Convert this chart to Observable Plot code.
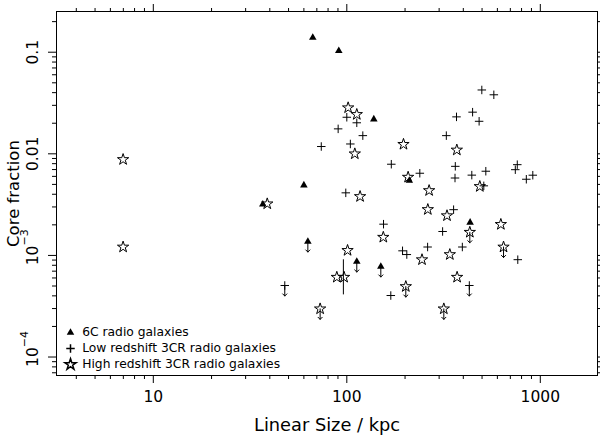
<!DOCTYPE html>
<html>
<head>
<meta charset="utf-8">
<script src="https://cdn.jsdelivr.net/npm/d3@7"></script>
<script src="https://cdn.jsdelivr.net/npm/@observablehq/plot@0.6"></script>
<style>
  body { margin: 0; background: #fff; }
  #chart { width: 600px; height: 436px; }
</style>
</head>
<body>
<div id="chart"></div>
<script>
// ---- Data ----
// 6C radio galaxies
const sixCSize  = [66.7, 90.9, 137.9, 60.0, 36.8, 62.9, 112.6, 149.9, 433.7, 210.4];
const sixCCore  = [0.1395, 0.1032, 0.0219, 0.00491, 0.00319, 0.00137, 0.000871, 0.000778, 0.00211, 0.00546];
const sixCLimit = [0, 0, 0, 0, 0, 1, 1, 1, 0, 0];

// Low redshift 3CR radio galaxies
const lowSize  = [498.6, 575.2, 368.9, 446.8, 482.8, 326.8, 100.0, 112.6, 90.2, 121.0, 73.8, 104.3,
                  169.8, 238.4, 363.7, 362.4, 442.6, 522.9, 760.4, 742.6, 846.6, 914.5, 510.5, 98.8,
                  356.4, 154.8, 312.7, 261.6, 395.4, 194.1, 204.2, 765.0, 168.8, 47.8, 429.7];
const lowCore  = [0.0425, 0.0381, 0.0231, 0.0257, 0.0209, 0.0151, 0.0229, 0.0202, 0.0176, 0.0151, 0.0118, 0.0125,
                  0.0079, 0.00644, 0.00753, 0.00578, 0.00617, 0.00674, 0.00782, 0.00698, 0.00562, 0.00616, 0.00484, 0.00413,
                  0.00282, 0.00203, 0.00172, 0.00121, 0.00121, 0.00111, 0.00102, 0.000908, 0.000403, 0.000506, 0.000506];
const lowLimit = [0,0,0,0,0,0,0,0,0,0,0,0, 0,0,0,0,0,0,0,0,0,0,0,0, 0,0,0,0,0,0,0,0,0,1,1];

// High redshift 3CR radio galaxies
const highSize  = [6.98, 6.98, 38.8, 101.6, 112.6, 110.0, 196.3, 370.3, 207.4, 266.3, 486.8, 117.1,
                   262.2, 329.5, 625.3, 432.2, 645.6, 244.7, 340.7, 371.5, 201.8, 317.2, 72.8, 88.8,
                   96.8, 154.4, 100.9];
const highCore  = [0.00879, 0.00121, 0.00322, 0.0284, 0.0244, 0.0100, 0.0124, 0.0109, 0.00589, 0.00435, 0.00477, 0.00380,
                   0.00283, 0.00246, 0.00202, 0.00169, 0.00121, 0.000908, 0.00102, 0.00061, 0.000494, 0.000298, 0.000298, 0.00061,
                   0.00061, 0.00151, 0.00112];
const highLimit = [0,0,0,0,0,0,0,0,0,0,0,0, 0,0,0,1,1,0,0,0,1,1,1,0, 0,0,0];

// Vertical error bar
const errSize = [96.0];
const errLow  = [0.000409];
const errHigh = [0.000906];

// Axis ticks and labels
const xMajor = [10, 100, 1000];
const xLabels = ["10", "100", "1000"];
const xMinor = [4, 5, 6, 7, 8, 9, 20, 30, 40, 50, 60, 70, 80, 90, 200, 300, 400, 500, 600, 700, 800, 900];
const yMajor = [1e-4, 1e-3, 0.01, 0.1];
const yLabels = ["10", "10", "0.01", "0.1"];
const yExp = ["\u22124", "\u22123", "", ""];
const yMinor = [7e-5, 8e-5, 9e-5, 2e-4, 3e-4, 4e-4, 5e-4, 6e-4, 7e-4, 8e-4, 9e-4,
                2e-3, 3e-3, 4e-3, 5e-3, 6e-3, 7e-3, 8e-3, 9e-3,
                0.02, 0.03, 0.04, 0.05, 0.06, 0.07, 0.08, 0.09, 0.2];

const legendLabels = ["6C radio galaxies", "Low redshift 3CR radio galaxies", "High redshift 3CR radio galaxies"];
const xTitle = "Linear Size / kpc";
const yTitle = "Core fraction";

// ---- Tables ----
const sixC = sixCSize.map((s, i) => ({size: s, core: sixCCore[i], limit: sixCLimit[i]}));
const low  = lowSize.map((s, i) => ({size: s, core: lowCore[i], limit: lowLimit[i]}));
const high = highSize.map((s, i) => ({size: s, core: highCore[i], limit: highLimit[i]}));
const errs = errSize.map((s, i) => ({size: s, lo: errLow[i], hi: errHigh[i]}));
const limits = [...sixC, ...low, ...high].filter(d => d.limit);

const font = "DejaVu Sans";
const axisOpts = {stroke: "black", fill: "none", label: null};

const chart = Plot.plot({
  width: 600,
  height: 436,
  marginLeft: 56,
  marginRight: 3,
  marginTop: 11,
  marginBottom: 61,
  style: {fontFamily: font, background: "white", color: "black", overflow: "visible"},
  x: {type: "log", domain: [3.16, 1975]},
  y: {type: "log", domain: [6.58e-5, 0.2516]},
  marks: [
    // ticks (outward on all four sides)
    Plot.axisX(xMajor, {...axisOpts, anchor: "bottom", tickSize: 8}),
    Plot.axisX(xMinor, {...axisOpts, anchor: "bottom", tickSize: 4}),
    Plot.axisX(xMajor, {...axisOpts, anchor: "top", tickSize: 8}),
    Plot.axisX(xMinor, {...axisOpts, anchor: "top", tickSize: 4}),
    Plot.axisY(yMajor, {...axisOpts, anchor: "left", tickSize: 8}),
    Plot.axisY(yMinor, {...axisOpts, anchor: "left", tickSize: 4}),
    Plot.axisY(yMajor, {...axisOpts, anchor: "right", tickSize: 8}),
    Plot.axisY(yMinor, {...axisOpts, anchor: "right", tickSize: 4}),
    Plot.frame({stroke: "black"}),

    // tick labels
    Plot.text(xMajor, {x: d => d, text: xLabels, frameAnchor: "bottom", dy: 21.5, fontSize: 15.5, lineAnchor: "middle", fill: "black"}),
    Plot.text(yMajor, {y: d => d, text: yLabels, frameAnchor: "left", dx: -23, rotate: -90, fontSize: 15.5, textAnchor: "middle", lineAnchor: "middle", fill: "black"}),
    Plot.text(yMajor, {y: d => d, text: yExp, frameAnchor: "left", dx: -32, dy: -18, rotate: -90, fontSize: 11, textAnchor: "middle", lineAnchor: "middle", fill: "black"}),

    // axis titles
    Plot.text([xTitle], {text: d => d, frameAnchor: "bottom", dy: 50, fontSize: 17.8, lineAnchor: "middle", fill: "black"}),
    Plot.text([yTitle], {text: d => d, frameAnchor: "left", dx: -42.5, rotate: -90, fontSize: 16.5, lineAnchor: "middle", textAnchor: "middle", fill: "black"}),

    // error bar
    Plot.ruleX(errs, {x: "size", y1: "lo", y2: "hi", stroke: "black", strokeWidth: 1}),

    // upper-limit arrows
    Plot.vector(limits, {x: "size", y: "core", length: 10.5, rotate: 180, anchor: "start", stroke: "black", strokeWidth: 1}),

    // points
    Plot.dot(low, {x: "size", y: "core", symbol: "plus", r: 2.85, stroke: "black", strokeWidth: 1}),
    Plot.dot(high, {x: "size", y: "core", symbol: "star", r: 3.55, stroke: "black", fill: "none", strokeWidth: 1}),
    Plot.dot(sixC, {x: "size", y: "core", symbol: "triangle", r: 2.8, fill: "black", stroke: "none"}),

    // legend
    Plot.dot([legendLabels[0]], {frameAnchor: "bottom-left", dx: 14, dy: -43, symbol: "triangle", r: 2.8, fill: "black", stroke: "none"}),
    Plot.dot([legendLabels[1]], {frameAnchor: "bottom-left", dx: 14, dy: -27, symbol: "plus", r: 2.85, stroke: "black"}),
    Plot.dot([legendLabels[2]], {frameAnchor: "bottom-left", dx: 14, dy: -11, symbol: "star", r: 3.55, stroke: "black", fill: "none"}),
    Plot.text([legendLabels[0]], {text: d => d, frameAnchor: "bottom-left", dx: 25.7, dy: -43, fontSize: 12.3, textAnchor: "start", lineAnchor: "middle", fill: "black"}),
    Plot.text([legendLabels[1]], {text: d => d, frameAnchor: "bottom-left", dx: 25.7, dy: -27, fontSize: 12.3, textAnchor: "start", lineAnchor: "middle", fill: "black"}),
    Plot.text([legendLabels[2]], {text: d => d, frameAnchor: "bottom-left", dx: 25.7, dy: -11, fontSize: 12.3, textAnchor: "start", lineAnchor: "middle", fill: "black"})
  ]
});
document.getElementById("chart").appendChild(chart);
</script>
</body>
</html>
